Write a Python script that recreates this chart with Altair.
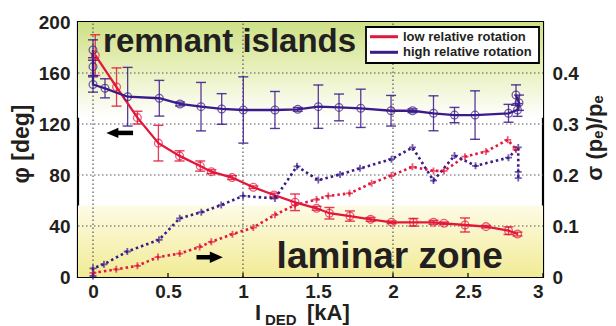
import altair as alt
import pandas as pd

RED = "#e3173c"
BLUE = "#3b1a8a"
TXT = "#231f20"
FONT = "Liberation Sans"

series_names = ["low relative rotation", "high relative rotation"]

# phase difference phi [deg], low relative rotation
low_x = [0.015, 0.157, 0.296, 0.436, 0.577, 0.715, 0.789, 0.927, 1.069, 1.207, 1.347, 1.491,
         1.576, 1.713, 1.851, 1.991, 2.136, 2.27, 2.34, 2.48, 2.62, 2.77, 2.83]
low_phi = [174, 149, 125, 105, 95, 87, 82.6, 78, 70.4, 64.3, 58.6, 53.9,
           50, 47.8, 45.2, 42.9, 42.9, 42.9, 42.1, 40.8, 39.5, 36.3, 33.7]
low_err = [16, 15, 5, 14, 4, 4, 1.5, 1.5, 1, 1.5, 6.5, 1.5,
           4.5, 4, 1.5, 1, 3, 1.5, 1, 5.5, 1, 3, 1.5]

# phase difference phi [deg], high relative rotation
high_x = [0.0, 0.0, 0.0, 0.08, 0.231, 0.442, 0.58, 0.72, 0.858, 1.002, 1.213, 1.365, 1.502,
          1.64, 1.785, 1.987, 2.13, 2.27, 2.41, 2.547, 2.77, 2.83, 2.84, 2.82]
high_phi = [178, 165, 151, 148, 141.4, 140.2, 135.7, 133.6, 131.8, 131, 131, 131.5, 133.6,
            133, 132.3, 130.4, 130.4, 128.4, 127, 127, 128.4, 131, 136.7, 142.7]
high_err = [8, 7, 6, 7.5, 23, 14, 1.5, 19, 12, 26, 14.5, 1.5, 17,
            10.5, 15, 12, 1.5, 13.7, 6, 19, 7, 5, 6, 8]

# sigma(p_e)/p_e, low relative rotation
sig_low_x = [0.0, 0.155, 0.296, 0.433, 0.578, 0.711, 0.789, 0.93, 1.069, 1.213, 1.347, 1.49,
             1.569, 1.71, 1.858, 1.99, 2.13, 2.27, 2.34, 2.48, 2.62, 2.765, 2.82]
sig_low = [0.008, 0.015, 0.022, 0.039, 0.046, 0.059, 0.069, 0.084, 0.097, 0.122, 0.141, 0.152,
           0.159, 0.164, 0.184, 0.199, 0.216, 0.208, 0.208, 0.236, 0.246, 0.269, 0.25]

# sigma(p_e)/p_e, high relative rotation
sig_high_x = [0.0, 0.0, 0.073, 0.229, 0.44, 0.578, 0.722, 0.855, 1.0, 1.213, 1.36, 1.502,
              1.647, 1.78, 1.99, 2.13, 2.27, 2.41, 2.55, 2.77, 2.835, 2.835, 2.835]
sig_high = [0.002, 0.017, 0.025, 0.05, 0.073, 0.115, 0.127, 0.141, 0.159, 0.154, 0.217, 0.19,
            0.201, 0.213, 0.231, 0.254, 0.189, 0.238, 0.218, 0.234, 0.254, 0.206, 0.194]

x_ticks = [0, 0.5, 1, 1.5, 2, 2.5, 3]
x_grid = [0, 1, 2]
y_grid = [40, 80, 120, 160]
left_ticks = [0, 40, 80, 120, 160, 200]
right_ticks = [0, 0.1, 0.2, 0.3, 0.4]
x_range = [-0.1, 3]

# annotation arrows (shaft from/to, head position, level in deg)
arrow_x1 = [0.16, 0.69]
arrow_x2 = [0.267, 0.785]
arrow_head = [0.129, 0.822]
arrow_y = [113, 15.5]
arrow_dir = ["left", "right"]

phi_rows = []
for i, (x, p, e) in enumerate(zip(low_x, low_phi, low_err)):
    phi_rows.append(dict(x=x, phi=p, lo=p - e, hi=p + e, series=series_names[0], order=i))
for i, (x, p, e) in enumerate(zip(high_x, high_phi, high_err)):
    phi_rows.append(dict(x=x, phi=p, lo=p - e, hi=p + e, series=series_names[1], order=i))
df_phi = pd.DataFrame(phi_rows)

sig_rows = []
for i, (x, s) in enumerate(zip(sig_low_x, sig_low)):
    sig_rows.append(dict(x=x, sig=s, series=series_names[0], order=i))
for i, (x, s) in enumerate(zip(sig_high_x, sig_high)):
    sig_rows.append(dict(x=x, sig=s, series=series_names[1], order=i))
df_sig = pd.DataFrame(sig_rows)

xscale = alt.Scale(domain=x_range, nice=False, zero=False)
yscale = alt.Scale(domain=[0, 200], nice=False, zero=False)
y2scale = alt.Scale(domain=[0, 0.5], nice=False, zero=False)
cscale = alt.Scale(domain=series_names, range=[RED, BLUE])

x_axis = alt.Axis(values=x_ticks, format="~g", title=None, grid=False, domain=False,
                  ticks=False, tickSize=0, labelPadding=5, labelFont=FONT,
                  labelFontSize=19, labelFontWeight="bold", labelColor=TXT, orient="bottom")
y_axis = alt.Axis(values=left_ticks, format=".0f", title=None, grid=False, domain=False,
                  ticks=False, tickSize=0, labelPadding=8, labelFont=FONT,
                  labelFontSize=19, labelFontWeight="bold", labelColor=TXT, orient="left")
y2_axis = alt.Axis(values=right_ticks, format="~g", title=None, grid=False, domain=False,
                   ticks=False, tickSize=0, labelPadding=9, labelFont=FONT,
                   labelFontSize=19, labelFontWeight="bold", labelColor=TXT, orient="right")


def X(field="x:Q"):
    return alt.X(field, scale=xscale, axis=x_axis)


def Y(field="phi:Q"):
    return alt.Y(field, scale=yscale, axis=y_axis)


def Y2(field="sig:Q"):
    return alt.Y(field, scale=y2scale, axis=y2_axis)


COLOR = alt.Color("series:N", scale=cscale, legend=None)

# background bands
df_bands = pd.DataFrame({"y1": [125, 0], "y2": [200, 56], "band": ["top", "bottom"],
                         "xa": [x_range[0]] * 2, "xb": [x_range[1]] * 2})
bg_top = alt.Chart(df_bands[df_bands.band == "top"]).mark_rect(
    color=alt.Gradient(gradient="linear",
                       stops=[alt.GradientStop(color="#cde086", offset=0),
                              alt.GradientStop(color="#e6efb8", offset=0.45),
                              alt.GradientStop(color="#ffffff", offset=1)],
                       x1=0, x2=0, y1=0, y2=1)
).encode(x=X("xa:Q"), x2="xb:Q", y=Y("y2:Q"), y2="y1:Q")
bg_bot = alt.Chart(df_bands[df_bands.band == "bottom"]).mark_rect(
    color=alt.Gradient(gradient="linear",
                       stops=[alt.GradientStop(color="#fdfbe6", offset=0),
                              alt.GradientStop(color="#f8f3bd", offset=0.5),
                              alt.GradientStop(color="#f1eb95", offset=1)],
                       x1=0, x2=0, y1=0, y2=1)
).encode(x=X("xa:Q"), x2="xb:Q", y=Y("y2:Q"), y2="y1:Q")

grid_v = alt.Chart(pd.DataFrame({"x": x_grid, "ya": [0] * 3, "yb": [200] * 3})).mark_rule(
    color="#555555", strokeDash=[1.5, 2.5], strokeWidth=1.2
).encode(x=X(), y=Y("ya:Q"), y2="yb:Q")
grid_h = alt.Chart(pd.DataFrame({"phi": y_grid, "xa": [x_range[0]] * 4,
                                 "xb": [x_range[1]] * 4})).mark_rule(
    color="#555555", strokeDash=[1.5, 2.5], strokeWidth=1.2
).encode(y=Y(), x=X("xa:Q"), x2="xb:Q")
tick_b = alt.Chart(pd.DataFrame({"x": x_ticks})).mark_rule(
    color="black", strokeWidth=1.2
).encode(x=X(), y=alt.value(255), y2=alt.value(251))

base_phi = alt.Chart(df_phi)
err = base_phi.mark_rule(strokeWidth=1.3, opacity=0.85).encode(
    x=X(), y=Y("lo:Q"), y2="hi:Q", color=COLOR)
cap_lo = base_phi.mark_point(shape="M-1,0H1", size=100, strokeWidth=1.4, opacity=0.85).encode(
    x=X(), y=Y("lo:Q"), color=COLOR)
cap_hi = base_phi.mark_point(shape="M-1,0H1", size=100, strokeWidth=1.4, opacity=0.85).encode(
    x=X(), y=Y("hi:Q"), color=COLOR)
line_phi = base_phi.mark_line(strokeWidth=2.3).encode(
    x=X(), y=Y(), color=COLOR, order="order:Q")
pts_phi = base_phi.mark_point(shape="circle", size=60, strokeWidth=1.3, filled=False).encode(
    x=X(), y=Y(), color=COLOR)

df_arrow = pd.DataFrame({"x1": arrow_x1, "x2": arrow_x2, "xh": arrow_head,
                         "phi": arrow_y, "dir": arrow_dir})
arrow_shaft = alt.Chart(df_arrow).mark_rule(color="black", strokeWidth=4.5).encode(
    x=X("x1:Q"), x2="x2:Q", y=Y())
arrow_l = alt.Chart(df_arrow[df_arrow.dir == "left"]).mark_point(
    shape="M-1,0L1,-0.85L1,0.85Z", size=144, filled=True, color="black", opacity=1
).encode(x=X("xh:Q"), y=Y())
arrow_r = alt.Chart(df_arrow[df_arrow.dir == "right"]).mark_point(
    shape="M1,0L-1,-0.9L-1,0.9Z", size=169, filled=True, color="black", opacity=1
).encode(x=X("xh:Q"), y=Y())

df_lab = pd.DataFrame({"x": [0.067, 1.224], "phi": [176.5, 6.8],
                       "t": ["remnant islands", "laminar zone"]})
lab1 = alt.Chart(df_lab.iloc[[0]]).mark_text(
    font=FONT, fontWeight="bold", fontSize=33, color=TXT, align="left", baseline="alphabetic"
).encode(x=X(), y=Y(), text="t:N")
lab2 = alt.Chart(df_lab.iloc[[1]]).mark_text(
    font=FONT, fontWeight="bold", fontSize=37, color=TXT, align="left", baseline="alphabetic"
).encode(x=X(), y=Y(), text="t:N")


# axis titles
def title_text(txt, px, py, size, angle=0, align="center", baseline="middle"):
    kw = dict(font=FONT, fontWeight="bold", fontSize=size, color=TXT, align=align,
              baseline=baseline)
    if angle:
        kw["angle"] = angle
    return alt.Chart(pd.DataFrame({"t": [txt]})).mark_text(**kw).encode(
        x=alt.value(px), y=alt.value(py), text="t:N")


t_left = title_text("φ [deg]", -56, 122, 23, angle=270)
t_right = title_text("σ (pₑ)/pₑ", 517, 116, 22, angle=270)
t_I = title_text("I", 177, 297.5, 22, align="left", baseline="alphabetic")
t_DED = title_text("DED", 187, 302.5, 15, align="left", baseline="alphabetic")
t_kA = title_text("[kA]", 229, 297.5, 22, align="left", baseline="alphabetic")

left = alt.layer(bg_top, bg_bot, grid_v, grid_h, tick_b, err, cap_lo, cap_hi, line_phi, pts_phi,
                 arrow_shaft, arrow_l, arrow_r, lab1, lab2, t_left, t_right, t_I, t_DED, t_kA)

base_sig = alt.Chart(df_sig)
line_sig = base_sig.mark_line(strokeWidth=2.6, strokeDash=[2.5, 3]).encode(
    x=X(), y=Y2(), color=COLOR, order="order:Q")
pts_sig = base_sig.mark_point(shape="M-1,0H1M0,-1V1", size=49, strokeWidth=1.8).encode(
    x=X(), y=Y2(), color=COLOR)

# legend (drawn as a framed box, top right of the plot)
df_leg = pd.DataFrame({"series": series_names})
leg_box = alt.Chart(pd.DataFrame({"t": ["box"]})).mark_rect(
    fill="white", stroke="black", strokeWidth=1.8
).encode(x=alt.value(288), x2=alt.value(461), y=alt.value(5), y2=alt.value(41))
leg_layers = [leg_box]
for i, name in enumerate(series_names):
    ypos = 14.7 + 15.6 * i
    sub = df_leg[df_leg.series == name]
    leg_layers.append(alt.Chart(sub).mark_rule(strokeWidth=3).encode(
        x=alt.value(292), x2=alt.value(320), y=alt.value(ypos), color=COLOR))
    leg_layers.append(alt.Chart(sub).mark_text(
        font=FONT, fontWeight="bold", fontSize=13, color=TXT, align="left", baseline="middle"
    ).encode(x=alt.value(325), y=alt.value(ypos), text="series:N"))

right = alt.layer(line_sig, pts_sig, *leg_layers)

chart = alt.layer(left, right).resolve_scale(y="independent").properties(
    width=465, height=255,
    autosize=alt.AutoSizeParams(type="none"),
    padding={"left": 78, "top": 22, "right": 73, "bottom": 49},
    background="white",
).configure_view(stroke="black", strokeWidth=2.2)

chart.save("out.html", embed_options={"renderer": "svg", "actions": False})
